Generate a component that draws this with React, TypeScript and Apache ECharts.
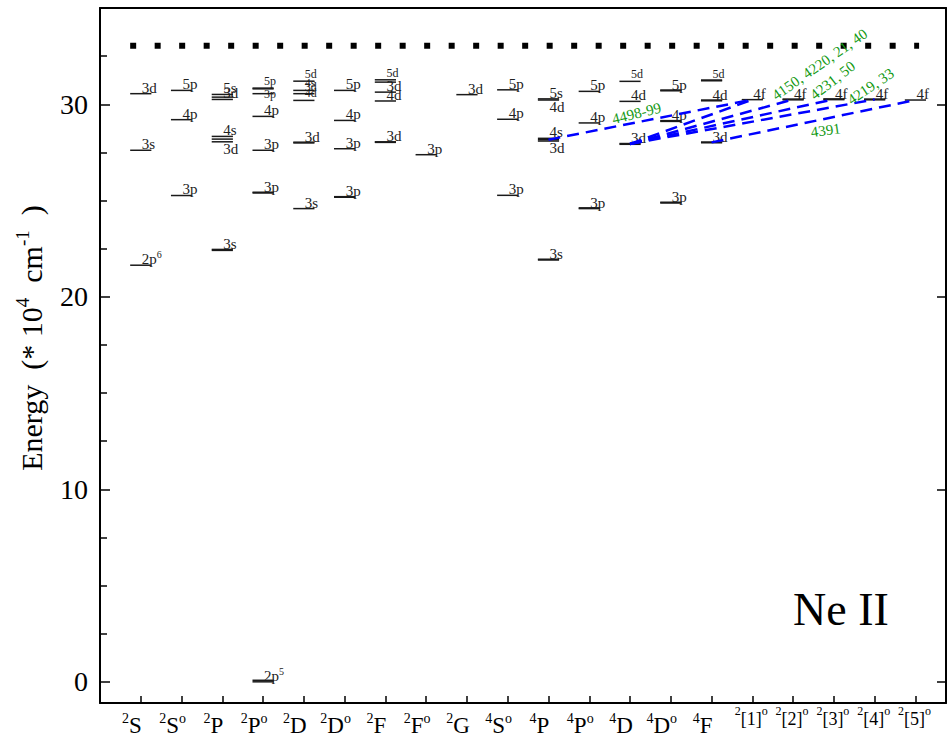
import React, { useEffect, useRef } from 'react';
import * as echarts from 'echarts';

// ---------- data ----------
const termMult = ['2', '2', '2', '2', '2', '2', '2', '2', '2', '4', '4', '4', '4', '4', '4', '2', '2', '2', '2', '2'];
const termCore = ['S', 'S', 'P', 'P', 'D', 'D', 'F', 'F', 'G', 'S', 'P', 'P', 'D', 'D', 'F', '[1]', '[2]', '[3]', '[4]', '[5]'];
const termOdd = [0, 1, 0, 1, 0, 1, 0, 1, 0, 1, 0, 1, 0, 1, 0, 1, 1, 1, 1, 1];
const termPositions = termCore.map((_, i) => i + 1);

const yTickLabels = ['0', '10', '20', '30'];
const ionizationLimit = 33.04;

// [term position (1..20), energy (1e4 cm^-1), configuration label]
const levels: [number, number, string][] = [
  [1, 21.64, '2p^6'], [1, 27.61, '3s'], [1, 30.55, '3d'],
  [2, 25.26, '3p'], [2, 29.2, '4p'], [2, 30.72, '5p'],
  [3, 22.41, '3s'], [3, 22.46, ''], [3, 28.05, '3d'], [3, 28.19, ''], [3, 28.33, '4s'],
  [3, 30.25, '3d'], [3, 30.37, ''], [3, 30.51, '5s'],
  [4, 0, '2p^5'], [4, 0.08, ''], [4, 25.39, '3p'], [4, 25.43, ''], [4, 27.61, '3p'], [4, 29.37, '4p'],
  [4, 30.55, '3p'], [4, 30.8, ''], [4, 30.84, '5p'],
  [5, 24.58, '3s'], [5, 27.99, '3d'], [5, 28.03, ''], [5, 30.2, '4d'], [5, 30.55, '3d'], [5, 30.72, '4s'], [5, 31.2, '5d'],
  [6, 25.17, '3p'], [6, 25.2, ''], [6, 27.69, '3p'], [6, 29.16, '4p'], [6, 30.72, '5p'],
  [7, 28.02, '3d'], [7, 28.05, ''], [7, 30.17, '4d'], [7, 30.63, '3d'], [7, 31.15, ''], [7, 31.27, '5d'],
  [8, 27.38, '3p'],
  [9, 30.5, '3d'],
  [10, 25.27, '3p'], [10, 29.22, '4p'], [10, 30.75, '5p'],
  [11, 21.91, '3s'], [11, 21.95, ''], [11, 28.09, '3d'], [11, 28.16, ''], [11, 28.23, '4s'],
  [11, 30.22, '4d'], [11, 30.28, '5s'],
  [12, 24.58, '3p'], [12, 24.62, ''], [12, 29.03, '4p'], [12, 30.67, '5p'],
  [13, 27.92, '3d'], [13, 27.96, ''], [13, 30.15, '4d'], [13, 31.19, '5d'],
  [14, 24.87, '3p'], [14, 24.91, ''], [14, 29.11, '4p'], [14, 29.15, ''], [14, 30.7, '5p'], [14, 30.74, ''],
  [15, 28.0, '3d'], [15, 28.04, ''], [15, 30.18, '4d'], [15, 30.22, ''], [15, 31.22, '5d'], [15, 31.26, ''],
  [16, 30.24, '4f'],
  [17, 30.23, '4f'], [17, 30.27, ''],
  [18, 30.24, '4f'], [18, 30.28, ''],
  [19, 30.23, '4f'], [19, 30.27, ''],
  [20, 30.22, '4f'],
];

// [lower term, lower energy, upper term, upper energy]
const transitions: [number, number, number, number][] = [
  [11, 28.16, 16, 30.24],
  [13, 27.94, 16, 30.24],
  [13, 27.94, 17, 30.25],
  [13, 27.94, 18, 30.26],
  [13, 27.94, 19, 30.25],
  [15, 28.02, 20, 30.22],
];

const lineLabels = ['4498-99', '4150, 4220, 21, 40', '4231, 50', '4219, 33', '4391'];
// anchor in data coords and text angle (deg) for each line label
const lineLabelAnchors: [number, number, number][] = [
  [13.16, 29.53, 14],
  [17.65, 32.07, 35],
  [17.97, 31.24, 38],
  [18.9, 30.93, 34],
  [17.8, 28.65, 8],
];

// label tweaks: key "term:energy"
const labelTweaks: Record<string, { pos?: 'up' | 'down' | 'mid'; small?: boolean }> = {
  '3:28.05': { pos: 'down' },
  '11:28.09': { pos: 'down' },
  '11:30.22': { pos: 'down' },
  '4:30.84': { small: true },
  '4:30.55': { small: true, pos: 'mid' },
  '5:31.2': { small: true },
  '5:30.72': { small: true },
  '5:30.55': { small: true },
  '5:30.2': { small: true },
  '7:31.27': { small: true },
  '13:31.19': { small: true },
  '15:31.22': { small: true },
};

// ---------- styling ----------
const FAM = 'Liberation Serif';
const f = (px: number) => `${px}px "${FAM}"`;
const HALF = 0.26;
const X_MIN = 0;
const X_MAX = 20.75;
const Y_MIN = -1.1;
const Y_MAX = 35;
const LBL = '#222';

let measureCtx: CanvasRenderingContext2D | null = null;
function textWidth(s: string, px: number) {
  if (!measureCtx) measureCtx = document.createElement('canvas').getContext('2d');
  measureCtx!.font = f(px);
  return measureCtx!.measureText(s).width;
}

type Part = { t: string; size: number; rise: number };

// lays out text parts on a common baseline (with superscripts raised)
function partsText(parts: Part[], x: number, baseline: number, align: 'left' | 'center', fill: string) {
  const widths = parts.map((p) => textWidth(p.t, p.size));
  const total = widths.reduce((a, b) => a + b, 0);
  let cx = align === 'left' ? x : x - total / 2;
  return parts.map((p, i) => {
    const el = {
      type: 'text',
      x: cx,
      y: baseline - p.rise - 0.34 * p.size,
      style: { text: p.t, font: f(p.size), fill, align: 'left', verticalAlign: 'middle' },
    };
    cx += widths[i];
    return el;
  });
}

function levelParts(lbl: string, small: boolean): Part[] {
  const [main, sup] = lbl.split('^');
  const size = small ? 12 : 15;
  const parts: Part[] = [{ t: main, size, rise: 0 }];
  if (sup) parts.push({ t: sup, size: small ? 8 : 10, rise: small ? 5 : 6 });
  return parts;
}

function termParts(k: number): Part[] {
  if (k < 15) {
    const p: Part[] = [
      { t: termMult[k], size: 14, rise: 10 },
      { t: termCore[k], size: 23, rise: 0 },
    ];
    if (termOdd[k]) p.push({ t: 'o', size: 14, rise: 10 });
    return p;
  }
  return [
    { t: termMult[k], size: 12, rise: 10 },
    { t: termCore[k], size: 18, rise: 0 },
    { t: 'o', size: 12, rise: 10 },
  ];
}

export default function App() {
  const ref = useRef<HTMLDivElement>(null);
  useEffect(() => {
    const chart = echarts.init(ref.current!, null, { renderer: 'svg' });
    const axisLine = { show: true, onZero: false, lineStyle: { color: '#000', width: 2 } };
    const yAxisBase = {
      type: 'value',
      min: Y_MIN,
      max: Y_MAX,
      splitNumber: 4,
      axisLine,
      splitLine: { show: false },
      minorSplitLine: { show: false },
    };
    const titleParts: Part[] = [
      { t: 'Energy  (* 10', size: 30, rise: 0 },
      { t: '4', size: 19, rise: 13 },
      { t: '  cm', size: 30, rise: 0 },
      { t: '-1', size: 19, rise: 13 },
      { t: '  )', size: 30, rise: 0 },
    ];
    const option: any = {
      animation: false,
      backgroundColor: '#fff',
      textStyle: { fontFamily: FAM },
      grid: { left: 100, right: 1, top: 8, bottom: 40, containLabel: false },
      xAxis: [
        {
          type: 'value',
          min: X_MIN,
          max: X_MAX,
          interval: 1,
          position: 'bottom',
          axisLine,
          axisTick: { show: true, inside: true, length: 7, lineStyle: { color: '#000', width: 1.5 } },
          splitLine: { show: false },
          axisLabel: { show: false },
        },
        {
          type: 'value',
          min: X_MIN,
          max: X_MAX,
          position: 'top',
          axisLine,
          axisTick: { show: false },
          axisLabel: { show: false },
          splitLine: { show: false },
        },
      ],
      yAxis: [
        {
          ...yAxisBase,
          position: 'left',
          axisTick: { show: true, inside: true, length: 10, lineStyle: { color: '#000', width: 1.5 } },
          minorTick: { show: true, splitNumber: 4, length: 7, lineStyle: { color: '#000', width: 1.5 } },
          axisLabel: {
            show: true,
            showMinLabel: false,
            showMaxLabel: false,
            margin: 12,
            fontSize: 28,
            fontFamily: FAM,
            color: '#000',
            formatter: (v: number) => (yTickLabels.includes(String(v)) ? String(v) : ''),
          },
        },
        {
          ...yAxisBase,
          position: 'right',
          axisTick: { show: true, inside: true, length: 9, lineStyle: { color: '#000', width: 1.5 } },
          minorTick: { show: false },
          axisLabel: { show: false },
        },
      ],
      graphic: [
        {
          type: 'group',
          x: 42,
          y: 338,
          rotation: Math.PI / 2,
          children: partsText(titleParts, 0, 0, 'center', '#000'),
        },
        {
          type: 'text',
          left: 793,
          top: 586,
          style: { text: 'Ne II', font: f(46), fill: '#000' },
        },
      ],
      series: [
        {
          type: 'line',
          silent: true,
          symbol: 'none',
          data: [
            [0.74, ionizationLimit],
            [20.09, ionizationLimit],
          ],
          lineStyle: { color: '#000', width: 6, type: [6, 18.5], cap: 'butt' },
          z: 2,
        },
        {
          // term labels under the x axis, placed through the x scale
          type: 'custom',
          silent: true,
          clip: false,
          data: termPositions.map((p) => [p, Y_MIN]),
          renderItem: (params: any, api: any) => {
            const k = params.dataIndex;
            const p = api.coord([api.value(0), api.value(1)]);
            const big = k < 15;
            return {
              type: 'group',
              children: partsText(termParts(k), p[0] - (big ? 9 : 1), p[1] + (big ? 30 : 22), 'center', '#000'),
            };
          },
          z: 5,
        },
        {
          type: 'custom',
          silent: true,
          clip: false,
          data: levels.map((l) => [l[0], l[1]]),
          renderItem: (params: any, api: any) => {
            const [t, e, lbl] = levels[params.dataIndex];
            const a = api.coord([t - HALF, e]);
            const b = api.coord([t + HALF, e]);
            const c = api.coord([t, e]);
            let children: any[] = [
              {
                type: 'line',
                shape: { x1: a[0], y1: a[1], x2: b[0], y2: b[1] },
                style: { stroke: '#1a1a1a', lineWidth: 1.5 },
              },
            ];
            if (lbl) {
              const tw = labelTweaks[`${t}:${e}`] || {};
              const pos = tw.pos || 'up';
              const small = !!tw.small;
              let base = c[1] - (small ? 3 : 1);
              if (pos === 'down') base = c[1] + 12;
              else if (pos === 'mid') base = c[1] + 4;
              children = children.concat(partsText(levelParts(lbl, small), c[0] + 1, base, 'left', LBL));
            }
            return { type: 'group', children };
          },
          z: 3,
        },
        {
          type: 'lines',
          coordinateSystem: 'cartesian2d',
          silent: true,
          polyline: false,
          data: transitions.map((tr) => ({
            coords: [
              [tr[0], tr[1]],
              [tr[2], tr[3]],
            ],
          })),
          lineStyle: { color: '#0000ff', width: 2.5, type: [12, 7], opacity: 1 },
          z: 4,
        },
        {
          type: 'custom',
          silent: true,
          clip: false,
          data: lineLabelAnchors.map((a) => [a[0], a[1]]),
          renderItem: (params: any, api: any) => {
            const [x, y, ang] = lineLabelAnchors[params.dataIndex];
            const p = api.coord([x, y]);
            return {
              type: 'text',
              x: p[0],
              y: p[1],
              rotation: (ang * Math.PI) / 180,
              style: {
                text: lineLabels[params.dataIndex],
                font: f(15),
                fill: '#139913',
                align: 'center',
                verticalAlign: 'middle',
              },
            };
          },
          z: 5,
        },
      ],
    };
    chart.setOption(option);
    return () => chart.dispose();
  }, []);
  return (
    <div
      ref={ref}
      style={{ position: 'fixed', left: 0, top: 0, width: 947, height: 743, background: '#fff' }}
    />
  );
}
